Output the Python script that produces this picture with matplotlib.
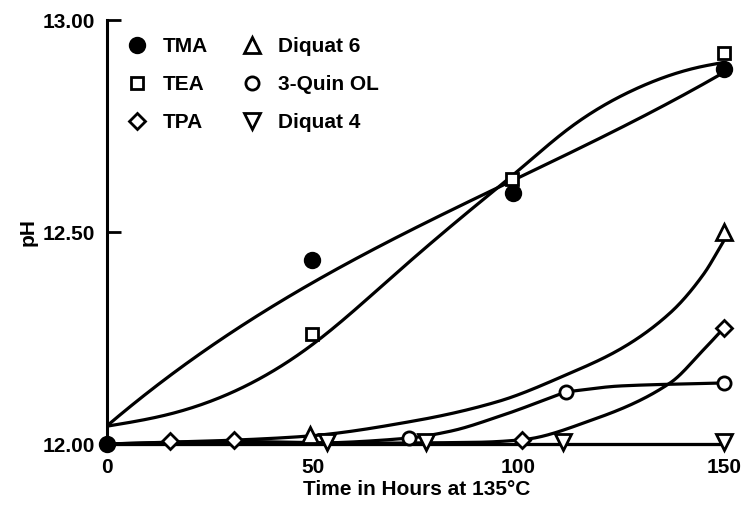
import numpy as np
import matplotlib
matplotlib.use("Agg")
import matplotlib.pyplot as plt
from matplotlib.lines import Line2D

plt.rcParams['font.family'] = ['Liberation Sans', 'DejaVu Sans']
plt.rcParams['font.weight'] = 'bold'

# ---- measured data points (time in hours, pH) ----
tma_x = [0, 49.8, 98.6, 150]
tma_y = [12.00, 12.434, 12.591, 12.884]
tea_x = [49.8, 98.5, 150]
tea_y = [12.259, 12.624, 12.922]
tpa_x = [15.3, 30.9, 100.9, 150]
tpa_y = [12.007, 12.009, 12.009, 12.274]
dq6_x = [49.4, 150]
dq6_y = [12.021, 12.501]
quin_x = [73.4, 111.6, 150]
quin_y = [12.014, 12.123, 12.144]
dq4_x = [53.5, 77.6, 110.9, 150]
dq4_y = [12.005, 12.005, 12.005, 12.005]

# ---- fitted curves (knots) ----
tma_fit_x = [0, 14.6, 30.7, 46.9, 67.1, 90.7, 98.5, 111.8, 127.9, 144.2, 150]
tma_fit_y = [12.042, 12.151, 12.274, 12.370, 12.465, 12.575, 12.615, 12.689, 12.771, 12.851, 12.866]
tea_fit_x = [0, 15, 30, 50, 70, 90, 100, 112, 128, 144, 150]
tea_fit_y = [12.042, 12.07, 12.12, 12.235, 12.40, 12.565, 12.645, 12.742, 12.835, 12.889, 12.90]
tpa_fit_x = [0, 15.3, 30.9, 60, 90, 100.9, 118, 136.9, 145, 150]
tpa_fit_y = [12.0, 12.004, 12.006, 12.002, 12.004, 12.010, 12.057, 12.144, 12.222, 12.274]
dq6_fit_x = [0, 25, 48, 75, 95, 111.6, 125, 137, 145, 150]
dq6_fit_y = [12.0, 12.007, 12.018, 12.055, 12.10, 12.163, 12.225, 12.31, 12.40, 12.48]
quin_fit_x = [0, 50, 73.4, 83.4, 95.6, 111.6]
quin_fit_y = [12.0, 12.002, 12.014, 12.030, 12.066, 12.123]
quin_fit2_x = [111.6, 125, 150]
quin_fit2_y = [12.123, 12.137, 12.144]
dq4_fit_x = [0, 150]
dq4_fit_y = [12.0, 12.0]

labels = ['TMA', 'TEA', 'TPA', 'Diquat 6', '3-Quin OL', 'Diquat 4']
y_ticks = [12.00, 12.50, 13.00]
x_ticks = [0, 50, 100, 150]


def pchip(x, y, xs):
    x = np.asarray(x, float)
    y = np.asarray(y, float)
    h = np.diff(x)
    d = np.diff(y) / h
    n = len(x)
    m = np.zeros(n)
    if n == 2:
        m[:] = d[0]
    else:
        for k in range(1, n - 1):
            if d[k - 1] * d[k] > 0:
                w1 = 2 * h[k] + h[k - 1]
                w2 = h[k] + 2 * h[k - 1]
                m[k] = (w1 + w2) / (w1 / d[k - 1] + w2 / d[k])
            else:
                m[k] = 0.0
        m[0] = d[0]
        m[-1] = d[-1]
    idx = np.clip(np.searchsorted(x, xs) - 1, 0, n - 2)
    t = (xs - x[idx]) / h[idx]
    h00 = 2 * t**3 - 3 * t**2 + 1
    h10 = t**3 - 2 * t**2 + t
    h01 = -2 * t**3 + 3 * t**2
    h11 = t**3 - t**2
    return h00 * y[idx] + h10 * h[idx] * m[idx] + h01 * y[idx + 1] + h11 * h[idx] * m[idx + 1]


def natural_spline(x, y, xs):
    x = np.asarray(x, float)
    y = np.asarray(y, float)
    n = len(x)
    h = np.diff(x)
    A = np.zeros((n, n))
    b = np.zeros(n)
    A[0, 0] = 1
    A[-1, -1] = 1
    for i in range(1, n - 1):
        A[i, i - 1] = h[i - 1]
        A[i, i] = 2 * (h[i - 1] + h[i])
        A[i, i + 1] = h[i]
        b[i] = 6 * ((y[i + 1] - y[i]) / h[i] - (y[i] - y[i - 1]) / h[i - 1])
    M = np.linalg.solve(A, b)
    idx = np.clip(np.searchsorted(x, xs) - 1, 0, n - 2)
    xl, xr = x[idx], x[idx + 1]
    hh = h[idx]
    return (M[idx] * (xr - xs) ** 3 / (6 * hh) + M[idx + 1] * (xs - xl) ** 3 / (6 * hh)
            + (y[idx] / hh - M[idx] * hh / 6) * (xr - xs)
            + (y[idx + 1] / hh - M[idx + 1] * hh / 6) * (xs - xl))


def cubic(x, y, xs):
    c = np.polyfit(x, y, 3)
    return np.polyval(c, xs)


W, H = 741, 511
fig = plt.figure(figsize=(W / 100, H / 100), dpi=100)
ax = fig.add_axes([107 / W, 1 - 444 / H, (724 - 107) / W, (444 - 20) / H])

lw = 2.3
curves = [
    (tma_fit_x, tma_fit_y, cubic),
    (tea_fit_x, tea_fit_y, natural_spline),
    (tpa_fit_x, tpa_fit_y, pchip),
    (dq6_fit_x, dq6_fit_y, pchip),
    (quin_fit_x, quin_fit_y, pchip),
    (quin_fit2_x, quin_fit2_y, pchip),
    (dq4_fit_x, dq4_fit_y, pchip),
]
for fx, fy, fn in curves:
    xs = np.linspace(fx[0], fx[-1], 400)
    ax.plot(xs, fn(fx, fy, xs), color='black', lw=lw, zorder=2, clip_on=False,
            solid_capstyle='butt', solid_joinstyle='round')

mew = 2.0
styles = [
    dict(marker='o', ms=10.5, mfc='black'),
    dict(marker='s', ms=8.5, mfc='white'),
    dict(marker='D', ms=8.5, mfc='white'),
    dict(marker='^', ms=11, mfc='white'),
    dict(marker='o', ms=9.5, mfc='white'),
    dict(marker='v', ms=11, mfc='white'),
]
series = [(tma_x, tma_y), (tea_x, tea_y), (tpa_x, tpa_y), (dq6_x, dq6_y), (quin_x, quin_y), (dq4_x, dq4_y)]
for (sx, sy), st in zip(series, styles):
    ax.plot(sx, sy, ls='none', mec='black', mew=mew, clip_on=False, zorder=4, **st)

FS = 15
ax.set_xlim(0, 150)
ax.set_ylim(12, 13)
ax.set_xticks(x_ticks)
ax.set_xticklabels([str(v) for v in x_ticks])
ax.set_yticks(y_ticks)
ax.set_yticklabels(['%.2f' % v for v in y_ticks])
ax.tick_params(axis='both', direction='in', length=10, width=2, labelsize=FS, pad=9)
ax.tick_params(axis='x', length=0, pad=10)
for s in ['top', 'right']:
    ax.spines[s].set_visible(False)
for s in ['left', 'bottom']:
    ax.spines[s].set_linewidth(2.2)
for lab in ax.get_xticklabels() + ax.get_yticklabels():
    lab.set_fontweight('bold')

ax.set_xlabel('Time in Hours at 135°C', fontsize=FS, fontweight='bold')
ax.xaxis.set_label_coords(0.502, -0.086)
ax.set_ylabel('pH', fontsize=FS, fontweight='bold')
ax.yaxis.set_label_coords(-0.112, 0.5)

handles = [Line2D([], [], ls='none', mec='black', mew=mew, **st) for st in styles]
leg = ax.legend(handles, labels, ncol=2, frameon=False, loc='upper left',
                bbox_to_anchor=(126.5 / W, 1 - 37 / H), bbox_transform=fig.transFigure,
                borderpad=0, borderaxespad=0, handlelength=1.0, handletextpad=0.75,
                columnspacing=1.6, labelspacing=0.92, prop=dict(size=FS, weight='bold'))

fig.savefig('out.png', dpi=100)
